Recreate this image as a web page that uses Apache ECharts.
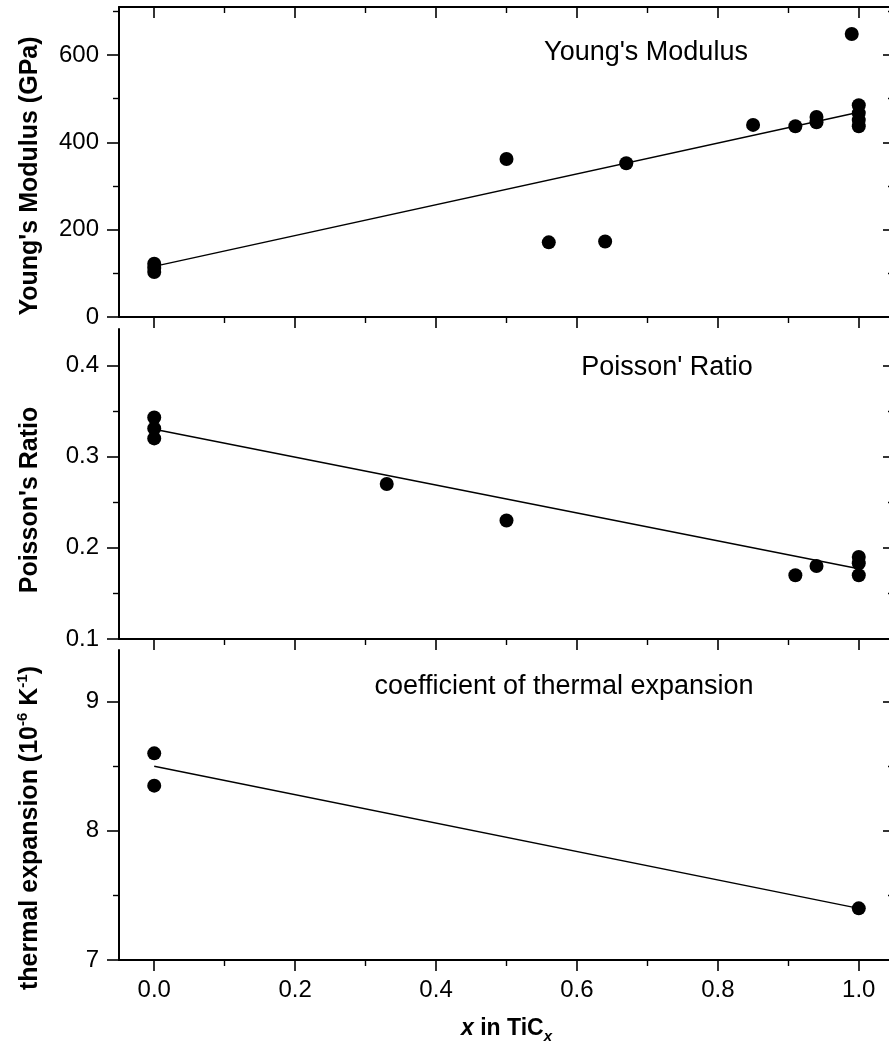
<!DOCTYPE html>
<html><head><meta charset="utf-8">
<script src="https://cdn.jsdelivr.net/npm/echarts@6/dist/echarts.min.js"></script>
<style>html,body{margin:0;padding:0;background:#fff}#c{width:889px;height:1057px}</style>
</head><body><div id="c"></div>
<script>
// ---- data ----
const xTicks = [0, 0.2, 0.4, 0.6, 0.8, 1.0];
const youngTicks = [0, 200, 400, 600];
const poissonTicks = [0.1, 0.2, 0.3, 0.4];
const thermalTicks = [7, 8, 9];

const youngX = [0, 0, 0, 0.5, 0.56, 0.64, 0.67, 0.85, 0.91, 0.94, 0.94, 0.99, 1, 1, 1, 1];
const youngY = [122, 112, 103, 362, 171, 173, 352, 440, 437, 458, 446, 648, 485, 467, 451, 437];
const youngFitX = [0, 1];
const youngFitY = [116, 469];

const poissonX = [0, 0, 0, 0.33, 0.5, 0.91, 0.94, 1, 1, 1];
const poissonY = [0.343, 0.331, 0.320, 0.27, 0.23, 0.17, 0.18, 0.19, 0.183, 0.17];
const poissonFitX = [0, 1];
const poissonFitY = [0.33, 0.177];

const thermalX = [0, 0, 1];
const thermalY = [8.6, 8.35, 7.4];
const thermalFitX = [0, 1];
const thermalFitY = [8.5, 7.4];

// ---- helpers ----
const FONT = '"Liberation Sans", Arial, Helvetica, sans-serif';
const zip = (a, b) => a.map((v, i) => [v, b[i]]);

function xAxis(grid, opts) {
  const o = Object.assign({ min: -0.05, max: 1.05, position: 'bottom', labels: false, inside: false }, opts);
  return {
    type: 'value', gridIndex: grid, min: o.min, max: o.max, splitNumber: 5,
    position: o.position,
    axisLine: { show: true, onZero: false, lineStyle: { color: '#000', width: 2 } },
    axisTick: { show: true, inside: o.inside, length: 11, customValues: xTicks, lineStyle: { color: '#000', width: 1.6 } },
    minorTick: { show: true, splitNumber: 2, length: 6, lineStyle: { color: '#000', width: 1.4 } },
    axisLabel: { show: o.labels, customValues: xTicks, margin: 18, color: '#000', fontSize: 24, fontFamily: FONT,
      formatter: v => v.toFixed(1) },
    splitLine: { show: false }, minorSplitLine: { show: false },
    name: o.name, nameLocation: 'middle', nameGap: o.nameGap,
    nameTextStyle: o.nameTextStyle
  };
}
function yAxis(grid, min, max, interval, ticks, fmt, right) {
  return {
    type: 'value', gridIndex: grid, min: min, max: max, interval: interval,
    position: right ? 'right' : 'left',
    axisLine: { show: true, onZero: false, lineStyle: { color: '#000', width: 2 } },
    axisTick: { show: true, inside: !!right, length: right ? 11 : 12, customValues: ticks, lineStyle: { color: '#000', width: 1.6 } },
    minorTick: { show: true, splitNumber: 2, length: 6, lineStyle: { color: '#000', width: 1.4 } },
    axisLabel: { show: !right, customValues: ticks, margin: 20, color: '#000', fontSize: 24, fontFamily: FONT, formatter: fmt },
    splitLine: { show: false }, minorSplitLine: { show: false }
  };
}
function scatter(xi, yi, xs, ys) {
  return { type: 'scatter', xAxisIndex: xi, yAxisIndex: yi, data: zip(xs, ys),
    symbol: 'circle', symbolSize: 14, itemStyle: { color: '#000', opacity: 1 }, z: 5, silent: true };
}
function fit(xi, yi, xs, ys) {
  return { type: 'line', xAxisIndex: xi, yAxisIndex: yi, data: zip(xs, ys),
    showSymbol: false, symbol: 'none', lineStyle: { color: '#000', width: 1.4 }, z: 3, silent: true };
}
function note(x, y, text) {
  return { type: 'text', x: x, y: y, silent: true,
    style: { text: text, fill: '#000', fontSize: 27, fontFamily: FONT, align: 'center', verticalAlign: 'middle', textAlign: 'center', textVerticalAlign: 'middle' } };
}
function ytitle(x, y, text, rich) {
  const st = { text: text, fill: '#000', fontSize: 25, fontWeight: 'bold', fontFamily: FONT,
    align: 'center', verticalAlign: 'middle', textAlign: 'center', textVerticalAlign: 'middle' };
  if (rich) st.rich = rich;
  return { type: 'text', x: x, y: y, rotation: Math.PI / 2, silent: true, style: st };
}

const chart = echarts.init(document.getElementById('c'), null, { renderer: 'canvas' });
const option = {
  backgroundColor: '#fff',
  animation: false,
  textStyle: { fontFamily: FONT },
  grid: [
    { left: 119, width: 775, top: 7, height: 310, outerBoundsMode: 'none' },
    { left: 119, width: 775, top: 329, height: 310, outerBoundsMode: 'none' },
    { left: 119, width: 775, top: 650, height: 310, outerBoundsMode: 'none' }
  ],
  xAxis: [
    xAxis(0, {}),
    xAxis(0, { position: 'top', inside: true }),
    xAxis(1, {}),
    xAxis(2, {
      labels: true,
      name: '{i|x}{b| in TiC}{s|x}', nameGap: 54,
      nameTextStyle: {
        color: '#000',
        rich: {
          i: { fontFamily: FONT, fontSize: 23, fontWeight: 'bold', fontStyle: 'italic', lineHeight: 30, color: '#000' },
          b: { fontFamily: FONT, fontSize: 23, fontWeight: 'bold', lineHeight: 30, color: '#000' },
          s: { fontFamily: FONT, fontSize: 15, fontWeight: 'bold', fontStyle: 'italic', lineHeight: 14, verticalAlign: 'bottom', color: '#000' }
        }
      }
    })
  ],
  yAxis: [
    yAxis(0, 0, 710, 200, youngTicks, v => String(v), false),
    yAxis(0, 0, 710, 200, youngTicks, v => String(v), true),
    yAxis(1, 0.1, 0.44, 0.1, poissonTicks, v => v.toFixed(1), false),
    yAxis(1, 0.1, 0.44, 0.1, poissonTicks, v => v.toFixed(1), true),
    yAxis(2, 7, 9.4, 1, thermalTicks, v => String(v), false),
    yAxis(2, 7, 9.4, 1, thermalTicks, v => String(v), true)
  ],
  series: [
    fit(0, 0, youngFitX, youngFitY),
    scatter(0, 0, youngX, youngY),
    fit(2, 2, poissonFitX, poissonFitY),
    scatter(2, 2, poissonX, poissonY),
    fit(3, 4, thermalFitX, thermalFitY),
    scatter(3, 4, thermalX, thermalY)
  ],
  graphic: [
    note(646, 53, "Young's Modulus"),
    note(667, 368, "Poisson' Ratio"),
    note(564, 687, 'coefficient of thermal expansion'),
    ytitle(30, 176, "Young's Modulus (GPa)"),
    ytitle(30, 500, "Poisson's Ratio"),
    ytitle(30, 828, '{a|thermal expansion (10}{s|-6}{a| K}{s|-1}{a|)}', {
      a: { fontSize: 25, fontWeight: 'bold', fontFamily: FONT, lineHeight: 30, fill: '#000', color: '#000' },
      s: { fontSize: 15, fontWeight: 'bold', fontFamily: FONT, lineHeight: 16, verticalAlign: 'top', fill: '#000', color: '#000' }
    })
  ]
};
chart.setOption(option);
</script>
</body></html>
